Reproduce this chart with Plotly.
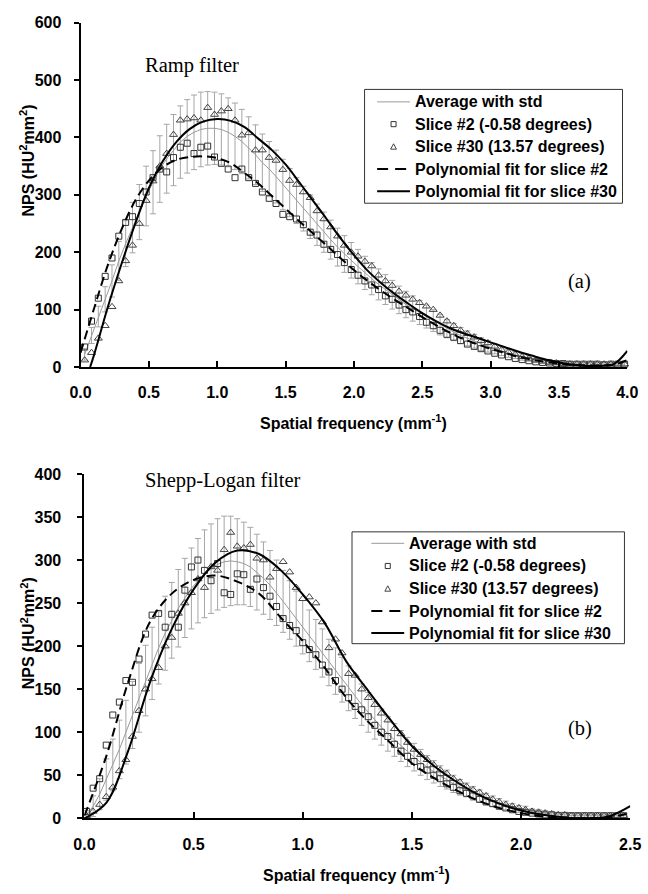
import plotly.graph_objects as go

# ---------------- Panel (a): Ramp filter ----------------
top_freq = [0.03,0.08,0.13,0.18,0.23,0.28,0.33,0.38,0.43,0.48,
            0.53,0.58,0.63,0.68,0.73,0.78,0.83,0.88,0.93,0.98,
            1.03,1.08,1.13,1.18,1.23,1.28,1.33,1.38,1.43,1.48,
            1.53,1.58,1.63,1.68,1.73,1.78,1.83,1.88,1.93,1.98,
            2.03,2.08,2.13,2.18,2.23,2.28,2.33,2.38,2.43,2.48,
            2.53,2.58,2.63,2.68,2.73,2.78,2.83,2.88,2.93,2.98,
            3.03,3.08,3.13,3.18,3.23,3.28,3.33,3.38,3.43,3.48,
            3.53,3.58,3.63,3.68,3.73,3.78,3.83,3.88,3.93,3.98]
top_avg = [22,55,88,118,150,185,215,243,270,298,
           322,345,363,378,392,402,409,414,416,416,
           414,409,402,393,382,370,356,345,332,318,
           304,290,276,262,248,235,222,209,197,186,
           175,164,154,144,135,126,117,109,102,95,
           88,81,74,67,61,55,50,45,40,36,
           32,28,24,21,18,15,13,11,9,8,
           7,6,6,5,5,5,5,5,5,5]
top_std = [10,14,18,22,28,34,40,44,48,52,
           55,58,60,62,63,64,65,65,64,63,
           62,60,58,56,54,52,50,48,46,44,
           42,40,39,38,36,35,34,33,32,31,
           30,29,28,27,26,25,24,23,22,21,
           20,19,18,16,15,14,13,12,11,10,
           9,8,7,6,6,5,5,4,4,3,
           3,3,3,3,3,3,3,3,3,3]
top_slice2 = [35,80,120,158,190,228,252,262,285,305,
              330,345,340,365,383,390,372,383,385,366,
              355,345,330,345,330,320,305,294,285,266,
              262,258,248,235,230,214,205,196,182,170,
              160,150,143,135,124,118,108,100,96,88,
              78,72,64,57,52,46,40,36,32,28,
              24,21,18,15,13,11,9,8,7,6,
              6,5,5,5,5,5,4,5,5,5]
top_slice30 = [12,25,50,72,105,150,185,212,250,290,
               324,350,372,405,430,432,434,430,452,440,
               446,450,430,404,408,378,378,365,360,344,
               325,318,305,295,272,258,244,228,212,200,
               193,184,176,160,150,142,132,125,118,112,
               106,100,90,80,72,64,58,52,46,42,
               36,30,26,22,18,15,12,10,8,7,
               6,5,5,5,5,5,5,5,5,5]
top_fit2_freq = [0.0,0.1,0.2,0.3,0.4,0.5,0.6,0.7,0.8,0.9,
                 1.0,1.1,1.2,1.3,1.4,1.5,1.6,1.7,1.8,1.9,
                 2.0,2.1,2.2,2.3,2.4,2.5,2.6,2.7,2.8,2.9,
                 3.0,3.1,3.2,3.3,3.4,3.5,3.6,3.7,3.8,3.9,4.0]
top_fit2 = [25,103,178,240,290,325,348,361,366,367,
            364,355,338,320,298,276,254,233,212,190,
            169,150,133,117,102,87,73,60,49,40,
            32,25,18,13,9,6,4,3,3,4,
            12]
top_fit30_freq = [0.07,0.1,0.2,0.3,0.4,0.5,0.6,0.7,0.8,0.9,
                  1.0,1.1,1.2,1.3,1.4,1.5,1.6,1.7,1.8,1.9,
                  2.0,2.1,2.2,2.3,2.4,2.5,2.6,2.7,2.8,2.9,
                  3.0,3.1,3.2,3.3,3.4,3.5,3.6,3.7,3.8,3.9,4.0]
top_fit30 = [0,22,105,180,250,312,358,392,415,428,
             432,429,418,398,378,353,322,290,258,225,
             195,168,146,127,110,94,80,68,59,51,
             43,35,27,20,13,8,4,2,2,5,
             28]

# ---------------- Panel (b): Shepp-Logan filter ----------------
bot_freq = [0.01,0.04,0.07,0.10,0.13,0.16,0.19,0.22,0.25,0.28,
            0.31,0.34,0.37,0.40,0.43,0.46,0.49,0.52,0.55,0.58,
            0.61,0.64,0.67,0.70,0.73,0.76,0.79,0.82,0.85,0.88,
            0.91,0.94,0.97,1.00,1.03,1.06,1.09,1.12,1.15,1.18,
            1.21,1.24,1.27,1.30,1.33,1.36,1.39,1.42,1.45,1.48,
            1.51,1.54,1.57,1.60,1.63,1.66,1.69,1.72,1.75,1.78,
            1.81,1.84,1.87,1.90,1.93,1.96,1.99,2.02,2.05,2.08,
            2.11,2.14,2.17,2.20,2.23,2.26,2.29,2.32,2.35,2.38,
            2.41,2.44,2.47]
bot_avg = [4,14,28,45,62,80,100,120,140,160,
           180,198,215,230,244,256,267,276,284,290,
           295,298,299,298,296,292,286,279,271,262,
           252,242,232,222,212,202,192,181,171,161,
           151,141,132,123,114,106,98,91,84,77,
           71,65,59,54,49,45,40,36,33,29,
           26,23,20,18,15,13,11,10,8,7,
           6,5,4,4,3,3,3,3,3,3,
           3,3,3]
bot_std = [5,12,18,24,30,34,37,39,40,41,
           42,42,43,44,45,46,47,49,51,52,
           53,53,52,50,48,46,44,42,40,38,
           36,34,32,31,30,29,28,27,27,26,
           26,25,24,23,22,21,20,19,18,17,
           16,15,14,13,12,11,10,9,8,8,
           7,6,6,5,5,4,4,4,3,3,
           3,3,3,3,3,3,2,2,2,2,
           2,2,2]
bot_slice2 = [8,35,46,85,120,135,160,158,185,214,
              236,238,222,237,222,265,292,300,288,276,
              296,262,260,284,283,266,278,268,258,246,
              232,224,218,204,196,190,178,170,160,150,
              140,130,126,118,108,100,95,86,78,72,
              66,60,56,50,46,40,36,32,29,26,
              22,19,17,14,12,10,8,7,6,5,
              4,4,3,3,3,3,3,3,3,3,
              3,3,3]
bot_slice30 = [3,8,16,25,36,55,68,95,125,150,
               162,175,200,210,238,250,262,278,268,292,
               288,312,332,316,314,318,302,300,280,290,
               298,286,268,255,257,250,228,198,208,192,
               168,166,150,140,132,122,114,104,98,88,
               80,74,68,62,56,52,46,42,37,33,
               30,26,22,19,16,14,12,10,8,7,
               6,5,4,4,3,3,3,3,3,3,
               3,3,3]
bot_fit_freq = [0.0,0.1,0.2,0.3,0.4,0.5,0.6,0.7,0.8,0.9,
                1.0,1.1,1.2,1.3,1.4,1.5,1.6,1.7,1.8,1.9,
                2.0,2.1,2.2,2.3,2.4,2.5]
bot_fit2 = [3,72,158,228,261,277,282,275,261,233,
            206,175,140,112,88,64,47,33,21,12,
            6,2,0,0,1,6]
bot_fit30 = [0,18,78,158,220,266,297,311,307,288,
             260,227,182,148,115,84,61,43,28,17,
             9,4,1,0,2,14]

names = ["Average with std", "Slice #2 (-0.58 degrees)", "Slice #30 (13.57 degrees)",
         "Polynomial fit for slice #2", "Polynomial fit for slice #30"]

W, H = 648, 894
AVG_COL = "#9a9a9a"
ERR_COL = "#a6a6a6"
SQ_COL = "#333333"
TR_COL = "#444444"
fig = go.Figure()


def add_panel(xa, ya, fx, avg, std, s2, s30, f2x, f2, f30x, f30):
    fig.add_trace(go.Scatter(x=fx, y=avg, mode="lines", name=names[0],
                             line=dict(color=AVG_COL, width=1),
                             error_y=dict(type="data", array=std, color=ERR_COL,
                                          thickness=1, width=3),
                             xaxis=xa, yaxis=ya))
    fig.add_trace(go.Scatter(x=fx, y=s2, mode="markers", name=names[1],
                             marker=dict(symbol="square-open", size=6, color=SQ_COL,
                                         line=dict(width=1)),
                             cliponaxis=False, xaxis=xa, yaxis=ya))
    fig.add_trace(go.Scatter(x=fx, y=s30, mode="markers", name=names[2],
                             marker=dict(symbol="triangle-up-open", size=7, color=TR_COL,
                                         line=dict(width=1)),
                             cliponaxis=False, xaxis=xa, yaxis=ya))
    fig.add_trace(go.Scatter(x=f2x, y=f2, mode="lines", name=names[3],
                             line=dict(color="black", width=2, dash="9px,5px", shape="spline"),
                             xaxis=xa, yaxis=ya))
    fig.add_trace(go.Scatter(x=f30x, y=f30, mode="lines", name=names[4],
                             line=dict(color="black", width=2, shape="spline"),
                             xaxis=xa, yaxis=ya))


add_panel("x", "y", top_freq, top_avg, top_std, top_slice2, top_slice30,
          top_fit2_freq, top_fit2, top_fit30_freq, top_fit30)
add_panel("x2", "y2", bot_freq, bot_avg, bot_std, bot_slice2, bot_slice30,
          bot_fit_freq, bot_fit2, bot_fit_freq, bot_fit30)

bold = dict(family="Liberation Sans, Arial", size=16, color="black", weight="bold")
serif = dict(family="Liberation Serif, Times New Roman", size=20.5, color="black")

ax_common = dict(showline=True, linecolor="black", linewidth=2, showgrid=False,
                 zeroline=False, tickfont=bold, tickcolor="black", tickwidth=1.5,
                 ticklabeloverflow="allow")


def px(xp):
    return xp / W


def py(yp):
    return 1 - yp / H


fig.update_layout(
    width=W, height=H, margin=dict(l=0, r=0, t=0, b=0),
    paper_bgcolor="white", plot_bgcolor="white", showlegend=False,
    xaxis=dict(domain=[px(72), px(638)], range=[0, 4], dtick=0.5, tickformat=".1f",
               ticks="inside", ticklen=6, anchor="y", ticklabelstandoff=10, **ax_common),
    yaxis=dict(domain=[py(366), py(15)], range=[0, 600], dtick=100,
               ticks="outside", ticklen=5, anchor="x", ticklabelstandoff=9, **ax_common),
    xaxis2=dict(domain=[px(76), px(641)], range=[0, 2.5], dtick=0.5, tickformat=".1f",
                ticks="inside", ticklen=6, anchor="y2", ticklabelstandoff=11, **ax_common),
    yaxis2=dict(domain=[py(826), py(475)], range=[0, 400], dtick=50,
                ticks="outside", ticklen=5, anchor="x2", ticklabelstandoff=13, **ax_common),
)

ann = [
    dict(text="Spatial frequency (mm<sup>-1</sup>)", x=px(355), y=py(422), font=bold),
    dict(text="Spatial frequency (mm<sup>-1</sup>)", x=px(358), y=py(883), font=bold),
    dict(text="NPS (HU<sup>2</sup>mm<sup>2</sup>)", x=px(17), y=py(155), font=bold, textangle=-90),
    dict(text="NPS (HU<sup>2</sup>mm<sup>2</sup>)", x=px(17), y=py(637), font=bold, textangle=-90),
    dict(text="Ramp filter", x=px(137), y=py(59), font=serif, xanchor="left"),
    dict(text="Shepp-Logan filter", x=px(137), y=py(482), font=serif, xanchor="left"),
    dict(text="(a)", x=px(588), y=py(279), font=serif),
    dict(text="(b)", x=px(589), y=py(734), font=serif),
]

shapes = []


def add_legend(box, rows, line_x0, line_x1, text_x):
    x0, y0, x1, y1 = box
    shapes.append(dict(type="rect", xref="paper", yref="paper",
                       x0=px(x0), x1=px(x1), y0=py(y1), y1=py(y0),
                       line=dict(color="#333333", width=1), fillcolor="white", layer="above"))
    mx = (line_x0 + line_x1) / 2
    shapes.append(dict(type="line", xref="paper", yref="paper", x0=px(line_x0), x1=px(line_x1),
                       y0=py(rows[0]), y1=py(rows[0]), line=dict(color=AVG_COL, width=1),
                       layer="above"))
    s = 2.6
    shapes.append(dict(type="rect", xref="paper", yref="paper", x0=px(mx - s), x1=px(mx + s),
                       y0=py(rows[1] + s), y1=py(rows[1] - s), line=dict(color=SQ_COL, width=1),
                       layer="above"))
    t = 3.0
    path = "M {:.5f} {:.5f} L {:.5f} {:.5f} L {:.5f} {:.5f} Z".format(
        px(mx - t), py(rows[2] + 2.5), px(mx + t), py(rows[2] + 2.5), px(mx), py(rows[2] - 3))
    shapes.append(dict(type="path", xref="paper", yref="paper", path=path,
                       line=dict(color=TR_COL, width=1), layer="above"))
    shapes.append(dict(type="line", xref="paper", yref="paper", x0=px(line_x0), x1=px(line_x1),
                       y0=py(rows[3]), y1=py(rows[3]),
                       line=dict(color="black", width=2, dash="11px,7px"), layer="above"))
    shapes.append(dict(type="line", xref="paper", yref="paper", x0=px(line_x0), x1=px(line_x1),
                       y0=py(rows[4]), y1=py(rows[4]), line=dict(color="black", width=2),
                       layer="above"))
    for r, nm in zip(rows, names):
        ann.append(dict(text=nm, x=px(text_x), y=py(r), font=bold, xanchor="left"))


add_legend((366, 83, 633, 199), [95.7, 118.4, 141.4, 164.2, 186.8], 379, 413, 416)
add_legend((353, 534, 635, 648), [545.7, 568.8, 592.0, 614.7, 637.2], 373, 407, 410)

for a in ann:
    a.setdefault("xanchor", "center")
    fig.add_annotation(xref="paper", yref="paper", showarrow=False, yanchor="middle", **a)
fig.update_layout(shapes=shapes)

fig.write_html("out.html")
